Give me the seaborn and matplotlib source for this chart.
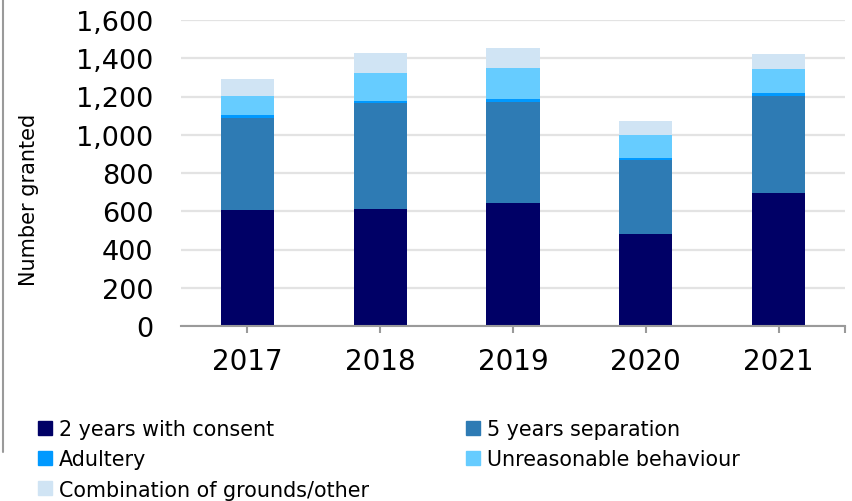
import matplotlib
matplotlib.use("Agg")
import matplotlib.pyplot as plt
import seaborn as sns
import numpy as np
from matplotlib.lines import Line2D

years = ["2017", "2018", "2019", "2020", "2021"]
consent_2yr = [606, 612, 643, 481, 695]
separation_5yr = [484, 556, 527, 389, 508]
adultery = [12, 9, 15, 9, 14]
unreasonable = [101, 146, 163, 118, 125]
combination = [87, 103, 108, 77, 82]

series_names = ["2 years with consent", "5 years separation", "Adultery",
                "Unreasonable behaviour", "Combination of grounds/other"]
series_values = [consent_2yr, separation_5yr, adultery, unreasonable, combination]
colors = ["#000066", "#2E7BB4", "#0099FF", "#66CCFF", "#D0E4F4"]
yticks = [0, 200, 400, 600, 800, 1000, 1200, 1400, 1600]

sns.set_theme(style="white")
plt.rcParams['font.family'] = ['DejaVu Sans']
plt.rcParams['text.color'] = '#000000'
plt.rcParams['axes.labelcolor'] = '#000000'

fig = plt.figure(figsize=(8.52, 5.02), dpi=100)
ax = fig.add_axes([181/852, 1-327/502, (845-181)/852, (327-21)/502])

bottom = np.zeros(len(years))
for name, vals, col in zip(series_names, series_values, colors):
    sns.barplot(x=years, y=vals, bottom=bottom, color=col, width=0.4,
                ax=ax, saturation=1, linewidth=0, edgecolor=col)
    bottom = bottom + np.array(vals)

ax.set_ylim(0, 1600)
ax.set_xlim(-0.5, 4.5)
ax.set_yticks(yticks)
ax.set_yticklabels([f"{v:,}" for v in yticks], fontsize=19.5)
ax.tick_params(axis='y', length=0, pad=20, labelcolor="#000000")
ax.set_xticks(range(len(years)))
ax.set_xticklabels(years)
ax.tick_params(axis='x', length=5, width=1.5, color="#9A9A9A", pad=10,
               labelsize=20, labelcolor="#000000", bottom=True)
ax.set_xticks([4.5], minor=True)
ax.tick_params(axis='x', which='minor', length=5, width=1.5, color="#9A9A9A", bottom=True)
ax.yaxis.grid(True, color="#E3E3E3", linewidth=1.6)
ax.set_axisbelow(True)
for s in ["left", "right", "top"]:
    ax.spines[s].set_visible(False)
ax.spines["bottom"].set_color("#9A9A9A")
ax.spines["bottom"].set_linewidth(1.5)
ax.set_xlabel("")
ax.set_ylabel("Number granted", fontsize=15)
ax.yaxis.set_label_coords((39 - 181) / 664, (327 - 200) / 306)

# frame line at left
fig.add_artist(Line2D([3/852, 3/852], [1, 1-453/502], color="#9A9A9A",
                      linewidth=1.5, transform=fig.transFigure))

order = [0, 2, 4, 1, 3]
handles = [Line2D([0], [0], marker='s', linestyle='None', markersize=10,
                  markerfacecolor=colors[i], markeredgecolor=colors[i]) for i in order]
labels = [series_names[i] for i in order]
fig.legend(handles, labels, ncol=2, loc="upper left",
           bbox_to_anchor=(38/852, 1-420/502), frameon=False, fontsize=14.9,
           handlelength=0.7, handletextpad=0.3, columnspacing=4.7,
           labelspacing=0.5, borderaxespad=0, borderpad=0, labelcolor="#000000")

fig.savefig("out.png", dpi=100)
